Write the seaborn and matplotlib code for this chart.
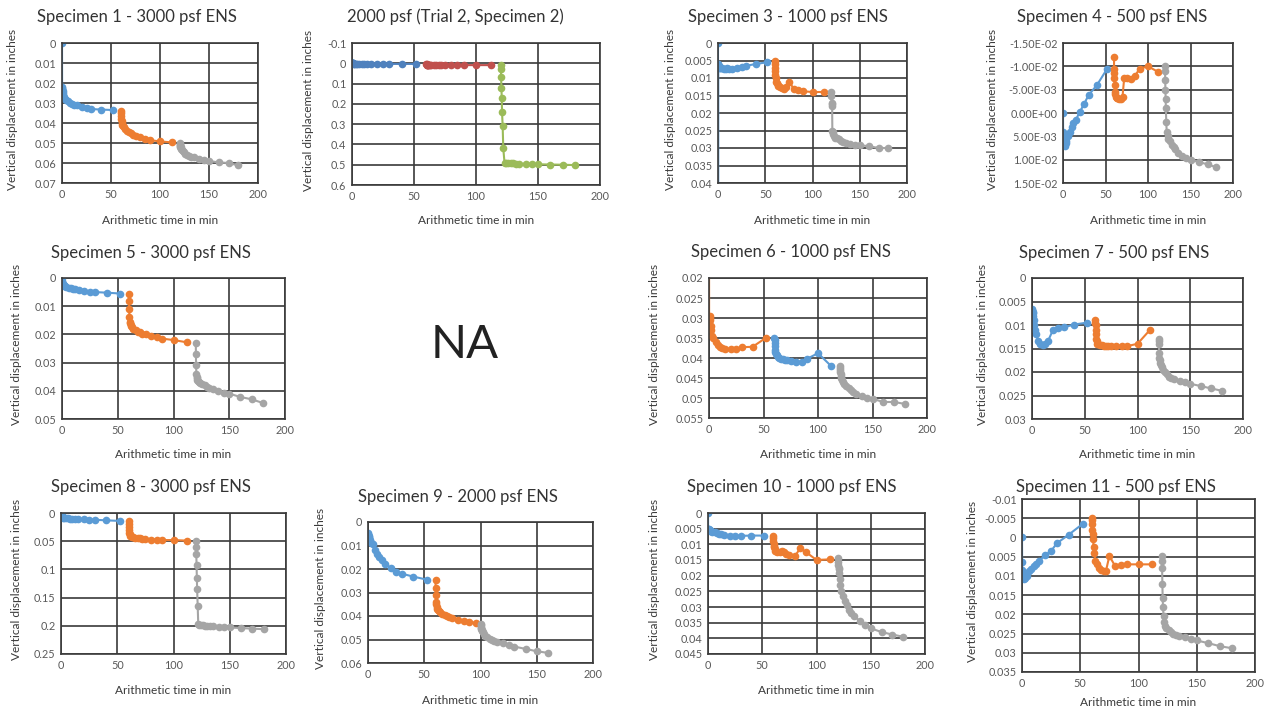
import matplotlib
matplotlib.use("Agg")
import matplotlib.pyplot as plt
import seaborn as sns
import pandas as pd

sns.set_theme(style="white")
plt.rcParams['font.family'] = ['Lato', 'DejaVu Sans']

# ---------------- data ----------------
T1 = [0, 0.1, 0.25, 0.5, 0.75, 1, 1.5, 2, 3, 4, 6, 8, 10, 12, 15, 20, 25, 30, 40, 52]
T2 = [60, 60.1, 60.25, 60.5, 60.75, 61, 61.5, 62, 63, 64, 66, 68, 70, 72, 75, 80, 85, 90, 100, 112]
T3 = [120, 120.1, 120.25, 120.5, 120.75, 121, 121.5, 122, 123, 124, 126, 128, 130, 132, 135, 140, 145, 150, 160, 170, 180]
T9_2 = [60, 60.1, 60.25, 60.5, 60.75, 61, 61.5, 62, 63, 64, 66, 68, 70, 72, 75, 80, 85, 90, 96]
T9_3 = [100, 100.1, 100.25, 100.5, 100.75, 101, 101.5, 102, 103, 104, 106, 108, 110, 112, 115, 120, 125, 130, 140, 150, 160]

s1_a = [0, 0.022, 0.0225, 0.023, 0.024, 0.025, 0.026, 0.027, 0.028, 0.0285, 0.029, 0.030, 0.0305, 0.031, 0.031, 0.032, 0.0325, 0.033, 0.0333, 0.0335]
s1_b = [0.034, 0.035, 0.0365, 0.038, 0.039, 0.040, 0.041, 0.0415, 0.042, 0.0428, 0.0438, 0.0445, 0.0452, 0.0458, 0.0465, 0.0472, 0.048, 0.0486, 0.0492, 0.0497]
s1_c = [0.050, 0.0505, 0.051, 0.0515, 0.052, 0.0522, 0.053, 0.0535, 0.054, 0.0545, 0.0555, 0.056, 0.0565, 0.0568, 0.057, 0.058, 0.0586, 0.059, 0.0597, 0.060, 0.0612]

s2_a = [0, 0.001, 0.001, 0.001, 0.001, 0.001, 0.002, 0.002, 0.002, 0.002, 0.002, 0.002, 0.003, 0.003, 0.003, 0.003, 0.003, 0.003, 0.003, 0.003]
s2_b = [0.004, 0.005, 0.006, 0.006, 0.007, 0.007, 0.007, 0.008, 0.008, 0.008, 0.008, 0.008, 0.008, 0.009, 0.009, 0.009, 0.009, 0.009, 0.009, 0.009]
s2_c = [0.008, 0.03, 0.07, 0.12, 0.17, 0.24, 0.31, 0.42, 0.49, 0.49, 0.492, 0.493, 0.494, 0.495, 0.495, 0.496, 0.497, 0.498, 0.499, 0.50, 0.502]

s3_a = [0, 0.06, 0.006, 0.006, 0.0065, 0.0065, 0.007, 0.007, 0.007, 0.0072, 0.0075, 0.0073, 0.0072, 0.0075, 0.0073, 0.007, 0.0068, 0.0065, 0.006, 0.0055]
s3_b = [0.005, 0.006, 0.007, 0.008, 0.009, 0.010, 0.011, 0.0115, 0.012, 0.0122, 0.0125, 0.0128, 0.013, 0.0125, 0.011, 0.013, 0.0135, 0.0138, 0.014, 0.014]
s3_c = [0.014, 0.015, 0.017, 0.018, 0.0175, 0.025, 0.0255, 0.026, 0.0265, 0.027, 0.0272, 0.0275, 0.028, 0.0282, 0.0285, 0.0288, 0.029, 0.0292, 0.0295, 0.030, 0.030]

s4_a = [0, 0.004, 0.0045, 0.005, 0.0055, 0.006, 0.0065, 0.007, 0.0065, 0.006, 0.005, 0.004, 0.003, 0.0022, 0.0015, -0.0003, -0.002, -0.0038, -0.006, -0.0095]
s4_b = [-0.012, -0.0095, -0.0085, -0.0075, -0.006, -0.0045, -0.004, -0.0035, -0.0033, -0.0032, -0.003, -0.003, -0.0035, -0.0075, -0.0075, -0.0072, -0.008, -0.0095, -0.0100, -0.0088]
s4_c = [-0.010, -0.009, -0.007, -0.005, -0.003, -0.001, 0.002, 0.004, 0.005, 0.0055, 0.006, 0.0068, 0.0073, 0.0078, 0.0085, 0.0092, 0.0097, 0.010, 0.0105, 0.011, 0.0116]

s5_a = [0, 0.001, 0.0015, 0.002, 0.002, 0.0025, 0.0025, 0.003, 0.003, 0.0032, 0.0035, 0.0037, 0.0038, 0.004, 0.0042, 0.0045, 0.0048, 0.005, 0.0052, 0.0055]
s5_b = [0.0055, 0.008, 0.011, 0.014, 0.0155, 0.016, 0.0165, 0.017, 0.0175, 0.018, 0.0185, 0.019, 0.0193, 0.0197, 0.020, 0.0205, 0.021, 0.0215, 0.022, 0.0228]
s5_c = [0.023, 0.027, 0.031, 0.034, 0.035, 0.0355, 0.036, 0.0365, 0.037, 0.0373, 0.0377, 0.038, 0.0385, 0.039, 0.0395, 0.040, 0.0408, 0.041, 0.0422, 0.043, 0.0443]

s6_a = [0.0, 0.0305, 0.031, 0.030, 0.0295, 0.0305, 0.032, 0.033, 0.0345, 0.035, 0.036, 0.0368, 0.0372, 0.0375, 0.0377, 0.0378, 0.0378, 0.0373, 0.0372, 0.035]
s6_b = [0.035, 0.0355, 0.0362, 0.037, 0.038, 0.0385, 0.039, 0.0393, 0.0397, 0.040, 0.0402, 0.0403, 0.0405, 0.0406, 0.0407, 0.041, 0.041, 0.0402, 0.0388, 0.042]
s6_c = [0.042, 0.0425, 0.043, 0.0435, 0.044, 0.0445, 0.045, 0.0455, 0.046, 0.0465, 0.047, 0.0475, 0.048, 0.0485, 0.049, 0.0495, 0.050, 0.0502, 0.051, 0.051, 0.0515]

s7_a = [0.0065, 0.0068, 0.007, 0.0072, 0.0075, 0.008, 0.009, 0.010, 0.011, 0.012, 0.0135, 0.014, 0.0142, 0.014, 0.0135, 0.011, 0.0107, 0.0105, 0.0099, 0.0095]
s7_b = [0.009, 0.0095, 0.010, 0.011, 0.012, 0.013, 0.0135, 0.014, 0.014, 0.0142, 0.0143, 0.0144, 0.0144, 0.0145, 0.0145, 0.0145, 0.0145, 0.0145, 0.014, 0.011]
s7_c = [0.013, 0.0135, 0.014, 0.016, 0.017, 0.0175, 0.018, 0.0185, 0.019, 0.0195, 0.020, 0.0205, 0.021, 0.0212, 0.0215, 0.022, 0.0222, 0.0225, 0.023, 0.0235, 0.024]

s8_a = [0, 0.002, 0.004, 0.005, 0.006, 0.007, 0.007, 0.008, 0.008, 0.009, 0.009, 0.010, 0.010, 0.010, 0.011, 0.011, 0.012, 0.012, 0.013, 0.014]
s8_b = [0.015, 0.02, 0.025, 0.03, 0.035, 0.038, 0.04, 0.041, 0.042, 0.043, 0.044, 0.045, 0.045, 0.046, 0.046, 0.047, 0.047, 0.048, 0.048, 0.049]
s8_c = [0.05, 0.06, 0.072, 0.092, 0.115, 0.135, 0.165, 0.197, 0.198, 0.199, 0.199, 0.200, 0.200, 0.201, 0.201, 0.202, 0.203, 0.203, 0.204, 0.205, 0.206]

s9_a = [0.0045, 0.005, 0.0055, 0.006, 0.0065, 0.007, 0.0075, 0.008, 0.0088, 0.0095, 0.012, 0.0135, 0.0148, 0.016, 0.0177, 0.0195, 0.0213, 0.022, 0.0232, 0.0245]
s9_b = [0.0245, 0.028, 0.031, 0.034, 0.035, 0.036, 0.037, 0.0375, 0.038, 0.0385, 0.039, 0.0395, 0.040, 0.0405, 0.041, 0.0415, 0.042, 0.0425, 0.043]
s9_c = [0.0435, 0.044, 0.0445, 0.045, 0.0455, 0.046, 0.0465, 0.047, 0.0478, 0.0485, 0.049, 0.0498, 0.050, 0.0505, 0.051, 0.0515, 0.0525, 0.053, 0.054, 0.055, 0.0557]

s10_a = [0, 0.005, 0.005, 0.0052, 0.0053, 0.0055, 0.0055, 0.0056, 0.0058, 0.006, 0.0062, 0.0064, 0.0066, 0.0068, 0.007, 0.0072, 0.0073, 0.0073, 0.0072, 0.0072]
s10_b = [0.0072, 0.008, 0.009, 0.010, 0.0105, 0.011, 0.0115, 0.012, 0.0122, 0.0124, 0.0123, 0.0122, 0.0125, 0.013, 0.0135, 0.0138, 0.0113, 0.0124, 0.015, 0.0148]
s10_c = [0.0145, 0.0155, 0.0165, 0.0175, 0.018, 0.019, 0.021, 0.023, 0.025, 0.0265, 0.028, 0.0295, 0.031, 0.032, 0.033, 0.0345, 0.0358, 0.0368, 0.038, 0.0388, 0.0395]

s11_a = [0, 0.0065, 0.0085, 0.0095, 0.010, 0.0105, 0.0105, 0.0108, 0.0105, 0.010, 0.0088, 0.0082, 0.0075, 0.0068, 0.006, 0.0046, 0.0035, 0.0015, -0.0007, -0.0035]
s11_b = [-0.005, -0.0045, -0.0035, -0.002, -0.001, 0.0005, 0.0025, 0.004, 0.006, 0.007, 0.008, 0.0085, 0.0088, 0.0088, 0.0048, 0.0075, 0.0072, 0.007, 0.007, 0.007]
s11_c = [0.0048, 0.006, 0.008, 0.012, 0.0158, 0.018, 0.0205, 0.022, 0.023, 0.0235, 0.024, 0.0245, 0.025, 0.0253, 0.0257, 0.026, 0.0265, 0.0268, 0.0275, 0.0283, 0.0288]

titles = ["Specimen 1 - 3000 psf ENS", "2000 psf (Trial 2, Specimen 2)", "Specimen 3 - 1000 psf ENS",
          "Specimen 4 - 500 psf ENS", "Specimen 5 - 3000 psf ENS", "Specimen 6 - 1000 psf ENS",
          "Specimen 7 - 500 psf ENS", "Specimen 8 - 3000 psf ENS", "Specimen 9 - 2000 psf ENS",
          "Specimen 10 - 1000 psf ENS", "Specimen 11 - 500 psf ENS"]

x_ticks = [0, 50, 100, 150, 200]
y1_ticks = [0, 0.01, 0.02, 0.03, 0.04, 0.05, 0.06, 0.07]
y2_ticks = [-0.1, 0, 0.1, 0.2, 0.3, 0.4, 0.5, 0.6]
y3_ticks = [0, 0.005, 0.01, 0.015, 0.02, 0.025, 0.03, 0.035, 0.04]
y4_ticks = [-0.015, -0.01, -0.005, 0, 0.005, 0.01, 0.015]
y5_ticks = [0, 0.01, 0.02, 0.03, 0.04, 0.05]
y6_ticks = [0.02, 0.025, 0.03, 0.035, 0.04, 0.045, 0.05, 0.055]
y7_ticks = [0, 0.005, 0.01, 0.015, 0.02, 0.025, 0.03]
y8_ticks = [0, 0.05, 0.1, 0.15, 0.2, 0.25]
y9_ticks = [0, 0.01, 0.02, 0.03, 0.04, 0.05, 0.06]
y10_ticks = [0, 0.005, 0.01, 0.015, 0.02, 0.025, 0.03, 0.035, 0.04, 0.045]
y11_ticks = [-0.01, -0.005, 0, 0.005, 0.01, 0.015, 0.02, 0.025, 0.03, 0.035]

x_label = "Arithmetic time in min"
y_label = "Vertical displacement in inches"
na_text = "NA"

# ---------------- styling / layout ----------------
BLUE, ORANGE, GRAY = "#5B9BD5", "#ED7D31", "#A5A5A5"
XBLUE, XRED, XGREEN = "#4F81BD", "#C0504D", "#9BBB59"
W, H = 1265, 712

# (series, yticks, fmt, plot box l,t,r,b, title center x,y, ylabel x, xlabel y)
panels = [
    ([(T1, s1_a, BLUE), (T2, s1_b, ORANGE), (T3, s1_c, GRAY)], y1_ticks, "g", (62, 43, 258, 183), (137, 17), 13, 220),
    ([(T1, s2_a, XBLUE), (T2, s2_b, XRED), (T3, s2_c, XGREEN)], y2_ticks, "g", (352, 43, 600, 185), (455, 17), 308, 220),
    ([(T1, s3_a, BLUE), (T2, s3_b, ORANGE), (T3, s3_c, GRAY)], y3_ticks, "g", (718, 43, 907, 183), (788, 17), 670, 220),
    ([(T1, s4_a, BLUE), (T2, s4_b, ORANGE), (T3, s4_c, GRAY)], y4_ticks, "E", (1063, 43, 1233, 183), (1112, 17), 992, 220),
    ([(T1, s5_a, BLUE), (T2, s5_b, ORANGE), (T3, s5_c, GRAY)], y5_ticks, "g", (62, 278, 285, 419), (151, 253), 17, 455),
    ([(T1, s6_a, ORANGE), (T2, s6_b, BLUE), (T3, s6_c, GRAY)], y6_ticks, "g", (709, 278, 927, 418), (791, 252), 655, 455),
    ([(T1, s7_a, BLUE), (T2, s7_b, ORANGE), (T3, s7_c, GRAY)], y7_ticks, "g", (1032, 278, 1243, 419), (1114, 253), 982, 455),
    ([(T1, s8_a, BLUE), (T2, s8_b, ORANGE), (T3, s8_c, GRAY)], y8_ticks, "g", (61, 513, 286, 654), (151, 487), 17, 690),
    ([(T1, s9_a, BLUE), (T9_2, s9_b, ORANGE), (T9_3, s9_c, GRAY)], y9_ticks, "g", (368, 522, 593, 663), (458, 497), 320, 700),
    ([(T1, s10_a, BLUE), (T2, s10_b, ORANGE), (T3, s10_c, GRAY)], y10_ticks, "g", (708, 513, 925, 654), (792, 487), 655, 690),
    ([(T1, s11_a, BLUE), (T2, s11_b, ORANGE), (T3, s11_c, GRAY)], y11_ticks, "g", (1022, 499, 1255, 672), (1116, 487), 972, 702),
]

GRID = "#3a3a3a"
TXT = "#3a3a3a"

fig = plt.figure(figsize=(W / 100, H / 100), dpi=100)
fig.patch.set_facecolor("white")

for title, (series, yticks, fmt, box, tpos, ylx, xly) in zip(titles, panels):
    l, t, r, b = box
    ax = fig.add_axes([l / W, 1 - b / H, (r - l) / W, (b - t) / H])
    for tt, yy, col in series:
        df = pd.DataFrame({"t": tt, "y": yy})
        sns.lineplot(data=df, x="t", y="y", ax=ax, color=col, marker="o", markersize=5.5,
                     markeredgewidth=0, linewidth=1.5, sort=False, estimator=None, legend=False)
    ax.set_xlim(x_ticks[0], x_ticks[-1])
    ax.set_xticks(x_ticks)
    ax.set_xticklabels([f"{v:g}" for v in x_ticks])
    ax.set_ylim(yticks[-1], yticks[0])
    ax.set_yticks(yticks)
    if fmt == "E":
        ax.set_yticklabels([f"{v:.2E}" for v in yticks])
    else:
        ax.set_yticklabels([f"{v:g}" for v in yticks])
    ax.set_xlabel("")
    ax.set_ylabel("")
    ax.grid(True, color=GRID, linewidth=1.2)
    ax.set_axisbelow(True)
    for sp in ax.spines.values():
        sp.set_color(GRID)
        sp.set_linewidth(1.2)
    ax.tick_params(length=0, labelsize=7.8, colors="#595959", pad=4)
    fig.text(tpos[0] / W, 1 - tpos[1] / H, title, ha="center", va="center", fontsize=12, color="#333333")
    fig.text(ylx / W, 1 - ((t + b) / 2 - 4) / H, y_label, rotation=90, ha="center", va="center",
             fontsize=8.6, color=TXT)
    fig.text(((l + r) / 2) / W, 1 - xly / H, x_label, ha="center", va="center", fontsize=8.6, color=TXT)

fig.text(465 / W, 1 - 345 / H, na_text, ha="center", va="center", fontsize=34, color="#222222")

fig.savefig("out.png", dpi=100, facecolor="white")
